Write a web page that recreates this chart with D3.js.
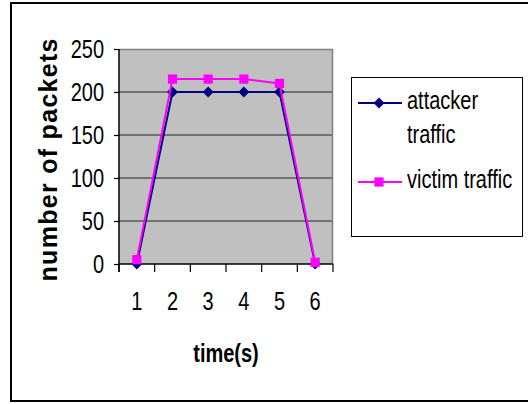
<!DOCTYPE html>
<html>
<head>
<meta charset="utf-8">
<script src="https://cdn.jsdelivr.net/npm/d3@7"></script>
<style>
  html, body { margin: 0; padding: 0; background: #fff; }
  svg { display: block; }
  text { font-family: "Liberation Sans", Arial, sans-serif; }
</style>
</head>
<body>
<svg id="chart" width="528" height="404"></svg>
<script>
// Packets per second for each traffic series
const times = [1, 2, 3, 4, 5, 6];
const attackerTraffic = [0, 200, 200, 200, 200, 0];
const victimTraffic = [5, 215, 215, 215, 210, 2];
const yTicks = [0, 50, 100, 150, 200, 250];
const seriesNames = ["attacker traffic", "victim traffic"];

// Horizontal squeeze that gives the condensed lettering
const SQ = 0.8;

const svg = d3.select("#chart");

// Outer chart frame
svg.append("rect")
  .attr("x", 11).attr("y", 3)
  .attr("width", 540).attr("height", 398)
  .attr("fill", "none").attr("stroke", "#000").attr("stroke-width", 2);

const plot = { left: 119, right: 333, top: 49, bottom: 264 };

const x = d3.scaleBand().domain(times).range([plot.left, plot.right]);
const y = d3.scaleLinear().domain([0, 250]).range([plot.bottom, plot.top]);

// Condensed text placed at (px, py)
function squeezed(parent, px, py, str) {
  return parent.append("g")
    .attr("transform", `translate(${px},${py}) scale(${SQ},1)`)
    .append("text")
    .attr("font-size", 25).attr("fill", "#000")
    .text(str);
}

// Plot background
svg.append("rect")
  .attr("x", plot.left).attr("y", plot.top)
  .attr("width", plot.right - plot.left).attr("height", plot.bottom - plot.top)
  .attr("fill", "#c0c0c0");

// Horizontal gridlines
svg.append("g")
  .selectAll("line")
  .data(yTicks.filter(v => v > 0 && v < 250))
  .join("line")
  .attr("x1", plot.left).attr("x2", plot.right)
  .attr("y1", d => y(d)).attr("y2", d => y(d))
  .attr("stroke", "#222").attr("stroke-width", 1);

// Top and right edges of plot area
svg.append("path")
  .attr("d", `M${plot.left},${plot.top + 0.5}H${plot.right - 0.5}V${plot.bottom}`)
  .attr("fill", "none").attr("stroke", "#808080").attr("stroke-width", 1.5);

// Y axis
const yAxis = svg.append("g")
  .attr("transform", `translate(${plot.left},0)`)
  .call(d3.axisLeft(y).tickValues(yTicks).tickSize(5).tickPadding(10));
yAxis.select(".domain").attr("stroke", "#000").attr("stroke-width", 1.5)
  .attr("d", `M0,${plot.top}V${plot.bottom + 8}`);
yAxis.selectAll(".tick line").attr("stroke", "#000").attr("stroke-width", 1.2);
yAxis.selectAll(".tick text")
  .attr("font-size", 25).attr("fill", "#000")
  .attr("font-family", "'Liberation Sans', Arial, sans-serif")
  .attr("x", -15 / SQ)
  .attr("transform", `scale(${SQ},1)`)
  .attr("dy", "0.35em");

// X axis: ticks sit on category boundaries, labels at centers
const xAxis = svg.append("g")
  .attr("transform", `translate(0,${plot.bottom})`)
  .call(d3.axisBottom(x).tickSize(0).tickPadding(28));
xAxis.select(".domain").attr("stroke", "#000").attr("stroke-width", 1.5)
  .attr("d", `M${plot.left},0H${plot.right}`);
xAxis.selectAll(".tick text")
  .attr("font-size", 25).attr("fill", "#000")
  .attr("font-family", "'Liberation Sans', Arial, sans-serif")
  .attr("transform", `scale(${SQ},1)`);
const bounds = times.map(t => x(t) + x.bandwidth()).concat([plot.left]);
xAxis.append("g").selectAll("line")
  .data(bounds)
  .join("line")
  .attr("x1", d => d).attr("x2", d => d)
  .attr("y1", 0).attr("y2", 8)
  .attr("stroke", "#000").attr("stroke-width", 1.2);

// Axis titles
squeezed(svg, 226, 362, "time(s)")
  .attr("text-anchor", "middle")
  .attr("font-weight", "bold");

svg.append("text")
  .attr("transform", "translate(57,160) rotate(-90)")
  .attr("text-anchor", "middle")
  .attr("font-size", 25).attr("font-weight", "bold")
  .attr("textLength", 243).attr("lengthAdjust", "spacing")
  .text("number of packets");

// Series
const cx = t => x(t) + x.bandwidth() / 2;
const line = d3.line().x((d, i) => cx(times[i])).y(d => y(d));

// Diamond = square turned 45 degrees
const diamond = { path: d3.symbol().type(d3.symbolSquare).size(60)(), rot: 45 };
const square = { path: d3.symbol().type(d3.symbolSquare).size(85)(), rot: 0 };

const series = [
  { name: seriesNames[0], values: attackerTraffic, color: "#000080", symbol: diamond },
  { name: seriesNames[1], values: victimTraffic, color: "#ff00ff", symbol: square }
];

series.forEach(s => {
  svg.append("path")
    .datum(s.values)
    .attr("d", line)
    .attr("fill", "none").attr("stroke", s.color).attr("stroke-width", 2);
  svg.append("g").selectAll("path")
    .data(s.values)
    .join("path")
    .attr("transform", (d, i) => `translate(${cx(times[i])},${y(d)}) rotate(${s.symbol.rot})`)
    .attr("d", s.symbol.path)
    .attr("fill", s.color);
});

// Legend
const legend = svg.append("g");
legend.append("rect")
  .attr("x", 351.5).attr("y", 77.5).attr("width", 171).attr("height", 159)
  .attr("fill", "#fff").attr("stroke", "#000").attr("stroke-width", 1);

const legendRows = [
  { s: series[0], y: 103, lines: ["attacker", "traffic"] },
  { s: series[1], y: 182, lines: ["victim traffic"] }
];
legendRows.forEach(r => {
  legend.append("line")
    .attr("x1", 358).attr("x2", 402).attr("y1", r.y).attr("y2", r.y)
    .attr("stroke", r.s.color).attr("stroke-width", 2);
  legend.append("path")
    .attr("transform", `translate(379,${r.y}) rotate(${r.s.symbol.rot})`)
    .attr("d", r.s.symbol.path)
    .attr("fill", r.s.color);
  r.lines.forEach((ln, i) => {
    squeezed(legend, 407, r.y + 6 + i * 34, ln);
  });
});
</script>
</body>
</html>
